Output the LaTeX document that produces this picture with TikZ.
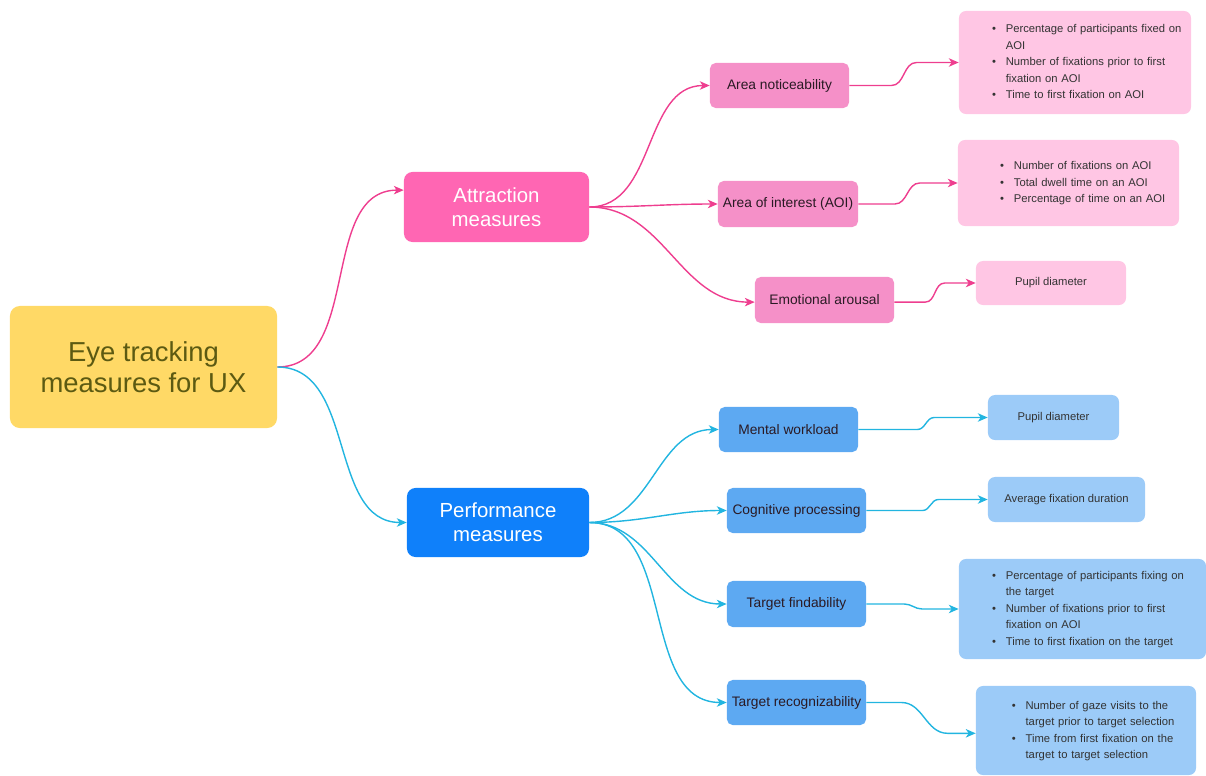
\documentclass[tikz,border=0pt]{standalone}
\usepackage{fontspec}
\setmainfont{Liberation Sans}
\usetikzlibrary{positioning, arrows.meta}

\definecolor{rootfill}{HTML}{FFD966}
\definecolor{roottext}{HTML}{5C5A12}
\definecolor{attrfill}{HTML}{FF66B3}
\definecolor{perffill}{HTML}{0F80FA}
\definecolor{pinkmid}{HTML}{F590C8}
\definecolor{pinkleaf}{HTML}{FFC6E4}
\definecolor{bluemid}{HTML}{5DA9F2}
\definecolor{blueleaf}{HTML}{9CCBF8}
\definecolor{pinkline}{HTML}{EE3E8F}
\definecolor{blueline}{HTML}{22B5E0}
\definecolor{midtext}{HTML}{2A1A24}
\definecolor{leaftext}{HTML}{333333}

\begin{document}
\begin{tikzpicture}[x=0.025cm, y=-0.025cm,
	box/.style={rectangle, draw=none, align=center},
	rootbox/.style={box, rounded corners=7pt, fill=rootfill, text=roottext, minimum width=6.675cm, minimum height=3.05cm, font=\fontsize{19.5}{22}\selectfont},
	groupbox/.style={box, rounded corners=6pt, text=white, minimum width=4.6cm, minimum height=1.75cm, font=\fontsize{14.5}{17}\selectfont},
	midbox/.style={box, rounded corners=4pt, text=midtext, minimum width=3.475cm, minimum height=1.125cm, font=\fontsize{9.8}{12}\selectfont},
	leafbox/.style={rectangle, draw=none, rounded corners=5pt, text=leaftext, inner sep=0pt, font=\fontsize{8}{11.7}\selectfont},
	pinkarrow/.style={draw=pinkline, line width=1pt, -{Stealth[length=7pt, width=6pt, inset=2pt]}},
	bluearrow/.style={draw=blueline, line width=1pt, -{Stealth[length=7pt, width=6pt, inset=2pt]}}
	]
	\useasboundingbox (0,0) rectangle (1206,776);

	% Radice
	\node[rootbox] (root) at (143.5,367) {Eye tracking\\measures for UX};

	% Gruppi
	\node[groupbox, fill=attrfill, minimum width=4.625cm] (attraction) at (496.5,207) {Attraction\\measures};
	\node[groupbox, fill=perffill, minimum width=4.55cm, minimum height=1.725cm] (performance) at (498,522.5) {Performance\\measures};

	% Misure di attrazione
	\node[midbox, fill=pinkmid] (notice) at (779.5,85.5) {Area noticeability};
	\node[midbox, fill=pinkmid, minimum width=3.5cm, minimum height=1.15cm] (aoi) at (788,204) {Area of interest (AOI)};
	\node[midbox, fill=pinkmid, minimum height=1.15cm] (arousal) at (824.5,300) {Emotional arousal};

	\node[leafbox, fill=pinkleaf, text width=5.8cm, minimum height=2.575cm] (noticeleaf) at (1075,62.5) {%
		\begin{tabular}{@{\hspace{23.5pt}}l@{\hspace{7pt}}l@{}}
			\textbullet & Percentage of participants fixed on\\
			 & AOI\\
			\textbullet & Number of fixations prior to first\\
			 & fixation on AOI\\
			\textbullet & Time to first fixation on AOI
		\end{tabular}};
	\node[leafbox, fill=pinkleaf, text width=5.525cm, minimum height=2.15cm] (aoileaf) at (1068.5,183) {%
		\begin{tabular}{@{\hspace{30pt}}l@{\hspace{7pt}}l@{}}
			\textbullet & Number of fixations on AOI\\
			\textbullet & Total dwell time on an AOI\\
			\textbullet & Percentage of time on an AOI
		\end{tabular}};
	\node[leafbox, fill=pinkleaf, minimum width=3.75cm, minimum height=1.1cm] (arousalleaf) at (1051,283) {Pupil diameter};

	% Misure di prestazione
	\node[midbox, fill=bluemid] (workload) at (788.5,429.5) {Mental workload};
	\node[midbox, fill=bluemid] (cognitive) at (796.5,510.5) {Cognitive processing};
	\node[midbox, fill=bluemid, minimum height=1.15cm] (findability) at (796.5,604) {Target findability};
	\node[midbox, fill=bluemid] (recognize) at (796.5,702.5) {Target recognizability};

	\node[leafbox, fill=blueleaf, minimum width=3.275cm, minimum height=1.125cm] (workloadleaf) at (1053.5,417.5) {Pupil diameter};
	\node[leafbox, fill=blueleaf, minimum width=3.925cm, minimum height=1.125cm] (cognitiveleaf) at (1066.5,499.5) {Average fixation duration};
	\node[leafbox, fill=blueleaf, text width=6.175cm, minimum height=2.5cm] (findleaf) at (1082.5,609) {%
		\begin{tabular}{@{\hspace{23.5pt}}l@{\hspace{7pt}}l@{}}
			\textbullet & Percentage of participants fixing on\\
			 & the target\\
			\textbullet & Number of fixations prior to first\\
			 & fixation on AOI\\
			\textbullet & Time to first fixation on the target
		\end{tabular}};
	\node[leafbox, fill=blueleaf, text width=5.5cm, minimum height=2.225cm] (recognizeleaf) at (1086,730.5) {%
		\begin{tabular}{@{\hspace{25.5pt}}l@{\hspace{7pt}}l@{}}
			\textbullet & Number of gaze visits to the\\
			 & target prior to target selection\\
			\textbullet & Time from first fixation on the\\
			 & target to target selection
		\end{tabular}};

	% Connessioni
	\draw[pinkarrow] (root.east) to[out=0, in=180] ([yshift=12pt]attraction.west);
	\draw[bluearrow] (root.east) to[out=0, in=180] (performance.west);

	\draw[pinkarrow] (attraction.east) to[out=0, in=180] (notice.west);
	\draw[pinkarrow] (attraction.east) to[out=0, in=180] (aoi.west);
	\draw[pinkarrow] (attraction.east) to[out=0, in=180] ([yshift=-1.5pt]arousal.west);
	\draw[pinkarrow] (notice.east) -- ++(30pt,0) to[out=0, in=180] ([xshift=-30pt]noticeleaf.west) -- (noticeleaf.west);
	\draw[pinkarrow] (aoi.east) -- ++(26pt,0) to[out=0, in=180] ([xshift=-27pt]aoileaf.west) -- (aoileaf.west);
	\draw[pinkarrow] ([yshift=-1.5pt]arousal.east) -- ++(22pt,0) to[out=0, in=180] ([xshift=-22pt]arousalleaf.west) -- (arousalleaf.west);

	\draw[bluearrow] (performance.east) to[out=0, in=180] (workload.west);
	\draw[bluearrow] (performance.east) to[out=0, in=180] (cognitive.west);
	\draw[bluearrow] (performance.east) to[out=0, in=180] (findability.west);
	\draw[bluearrow] (performance.east) to[out=0, in=180] (recognize.west);
	\draw[bluearrow] (workload.east) -- ++(42pt,0) to[out=0, in=180] ([xshift=-38pt]workloadleaf.west) -- (workloadleaf.west);
	\draw[bluearrow] (cognitive.east) -- ++(40pt,0) to[out=0, in=180] ([xshift=-35pt]cognitiveleaf.west) -- (cognitiveleaf.west);
	\draw[bluearrow] (findability.east) -- ++(27pt,0) to[out=0, in=180] ([xshift=-26pt]findleaf.west) -- (findleaf.west);
	\draw[bluearrow] (recognize.east) -- ++(25pt,0) to[out=0, in=180] ([xshift=-20pt, yshift=-2pt]recognizeleaf.west) -- ([yshift=-2pt]recognizeleaf.west);
\end{tikzpicture}
\end{document}
